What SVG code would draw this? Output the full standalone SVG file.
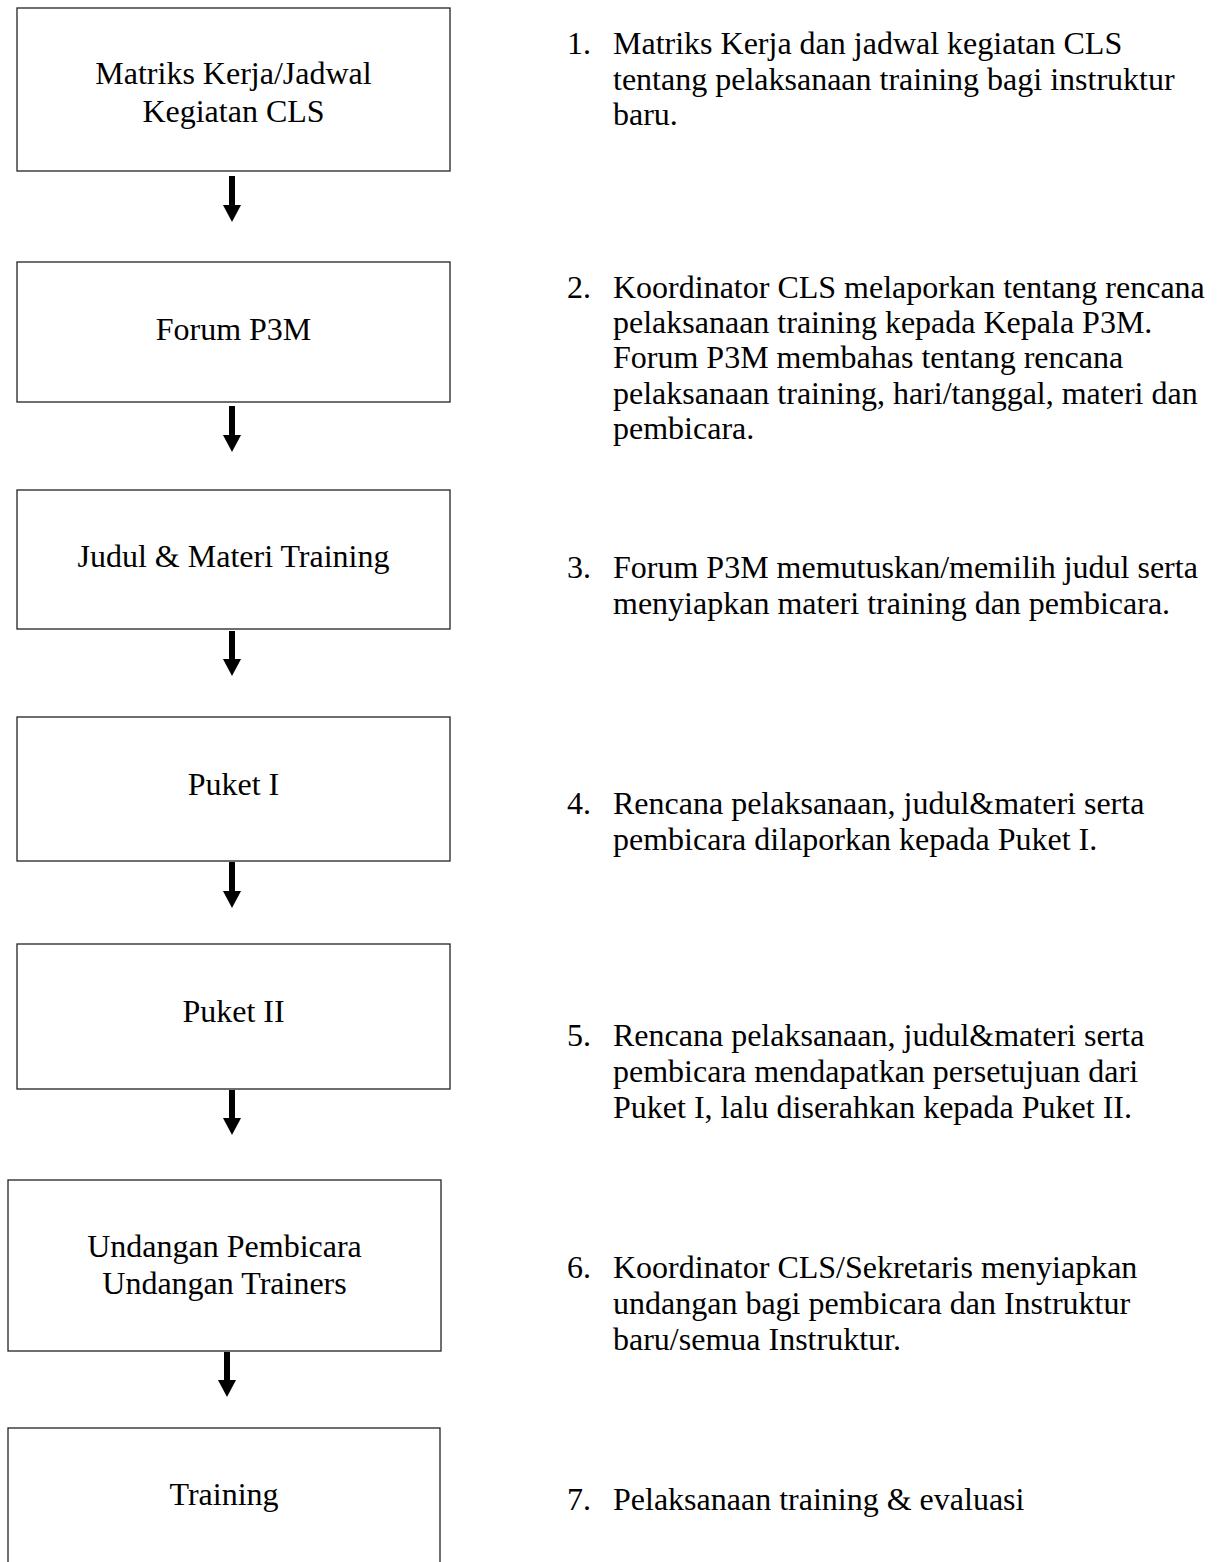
<svg xmlns="http://www.w3.org/2000/svg" width="1222" height="1562" viewBox="0 0 1222 1562">
<style>
.box{fill:#fff;stroke:#222;stroke-width:1.3}
.bt{font-family:"Liberation Serif","Times New Roman",serif;font-size:32px;fill:#000;text-anchor:middle}
.rt{font-family:"Liberation Serif","Times New Roman",serif;font-size:32px;fill:#000}
.arr{stroke:#000;stroke-width:6;fill:none;marker-end:url(#ah)}
</style>
<defs>
<marker id="ah" viewBox="0 0 17 18" refX="1" refY="9" markerWidth="17" markerHeight="18" markerUnits="userSpaceOnUse" orient="auto">
<path d="M0,0 L17,9 L0,18 Z" fill="#000"/>
</marker>
</defs>
<rect width="1222" height="1562" fill="#fff"/>
<g id="n1"><rect class="box" x="17" y="8" width="433" height="163"/>
<text class="bt" x="233.5" y="84">Matriks Kerja/Jadwal</text>
<text class="bt" x="233.5" y="122">Kegiatan CLS</text></g>
<g id="n2"><rect class="box" x="17" y="262" width="433" height="140"/>
<text class="bt" x="233.5" y="340">Forum P3M</text></g>
<g id="n3"><rect class="box" x="17" y="490" width="433" height="139"/>
<text class="bt" x="233.5" y="567">Judul &amp; Materi Training</text></g>
<g id="n4"><rect class="box" x="17" y="717" width="433" height="144"/>
<text class="bt" x="233.5" y="795">Puket I</text></g>
<g id="n5"><rect class="box" x="17" y="944" width="433" height="145"/>
<text class="bt" x="233.5" y="1022">Puket II</text></g>
<g id="n6"><rect class="box" x="8" y="1180" width="433" height="171"/>
<text class="bt" x="224.5" y="1257">Undangan Pembicara</text>
<text class="bt" x="224.5" y="1294">Undangan Trainers</text></g>
<g id="n7"><rect class="box" x="8" y="1428" width="432" height="150"/>
<text class="bt" x="224" y="1505">Training</text></g>
<g id="connectors">
<line class="arr" x1="232" y1="176" x2="232" y2="206"/>
<line class="arr" x1="232" y1="406" x2="232" y2="436"/>
<line class="arr" x1="232" y1="631" x2="232" y2="660"/>
<line class="arr" x1="232" y1="862" x2="232" y2="892"/>
<line class="arr" x1="232" y1="1090" x2="232" y2="1119"/>
<line class="arr" x1="227" y1="1352" x2="227" y2="1381"/>
</g>
<g id="notes">
<text class="rt" x="567" y="54">1.</text>
<text class="rt" x="613" y="54">Matriks Kerja dan jadwal kegiatan CLS</text>
<text class="rt" x="613" y="90">tentang pelaksanaan training bagi instruktur</text>
<text class="rt" x="613" y="125">baru.</text>
<text class="rt" x="567" y="298">2.</text>
<text class="rt" x="613" y="298">Koordinator CLS melaporkan tentang rencana</text>
<text class="rt" x="613" y="333">pelaksanaan training kepada Kepala P3M.</text>
<text class="rt" x="613" y="368">Forum P3M membahas tentang rencana</text>
<text class="rt" x="613" y="404">pelaksanaan training, hari/tanggal, materi dan</text>
<text class="rt" x="613" y="439">pembicara.</text>
<text class="rt" x="567" y="578">3.</text>
<text class="rt" x="613" y="578">Forum P3M memutuskan/memilih judul serta</text>
<text class="rt" x="613" y="614">menyiapkan materi training dan pembicara.</text>
<text class="rt" x="567" y="814">4.</text>
<text class="rt" x="613" y="814">Rencana pelaksanaan, judul&amp;materi serta</text>
<text class="rt" x="613" y="850">pembicara dilaporkan kepada Puket I.</text>
<text class="rt" x="567" y="1046">5.</text>
<text class="rt" x="613" y="1046">Rencana pelaksanaan, judul&amp;materi serta</text>
<text class="rt" x="613" y="1082">pembicara mendapatkan persetujuan dari</text>
<text class="rt" x="613" y="1118">Puket I, lalu diserahkan kepada Puket II.</text>
<text class="rt" x="567" y="1278">6.</text>
<text class="rt" x="613" y="1278">Koordinator CLS/Sekretaris menyiapkan</text>
<text class="rt" x="613" y="1314">undangan bagi pembicara dan Instruktur</text>
<text class="rt" x="613" y="1350">baru/semua Instruktur.</text>
<text class="rt" x="567" y="1510">7.</text>
<text class="rt" x="613" y="1510">Pelaksanaan training &amp; evaluasi</text>
</g>
</svg>
